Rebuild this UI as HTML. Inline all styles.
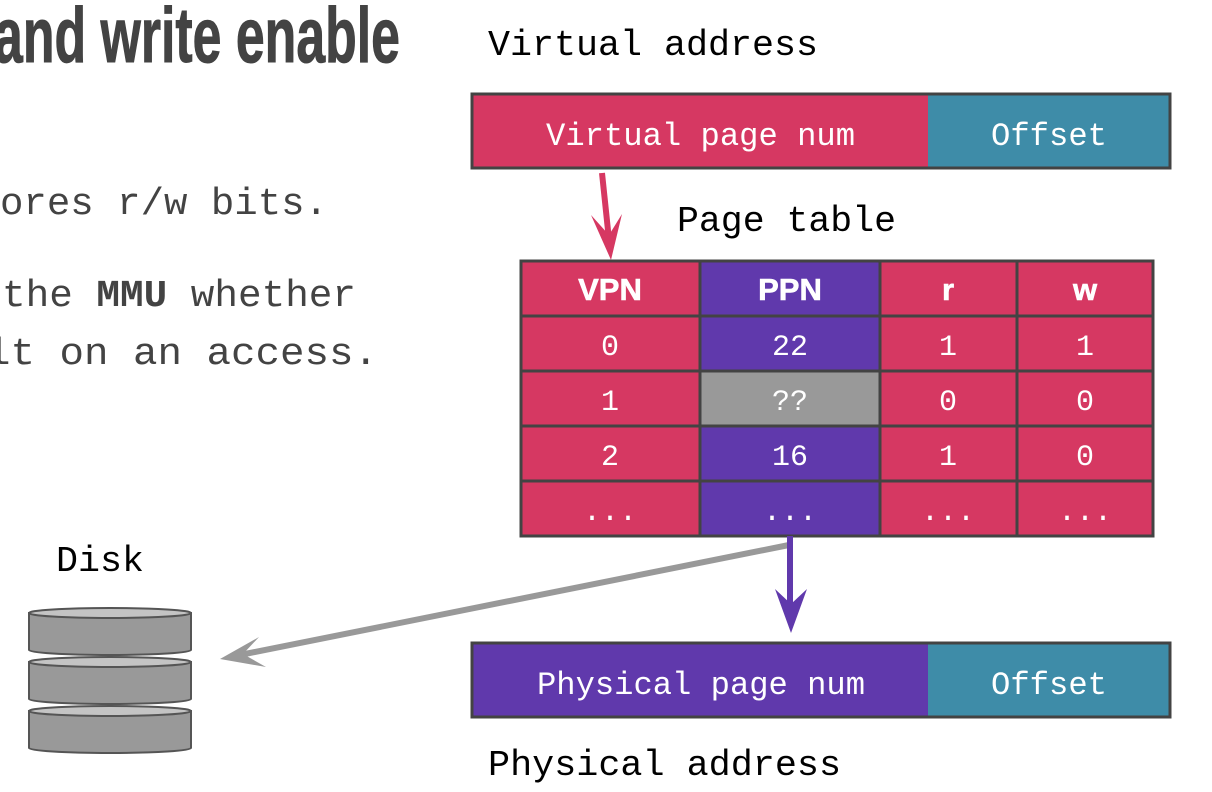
<!DOCTYPE html>
<html><head><meta charset="utf-8"><style>
html,body{margin:0;padding:0;background:#fff;width:1212px;height:792px;overflow:hidden}
svg{display:block}
.m{font-family:"Liberation Mono","DejaVu Sans Mono",monospace}
</style></head><body>
<svg width="1212" height="792" viewBox="0 0 1212 792" xmlns="http://www.w3.org/2000/svg">
<text x="-6" y="62" font-family="'Liberation Sans Narrow','Liberation Sans',sans-serif" font-weight="bold" font-size="78" fill="#434343" stroke="#434343" stroke-width="1" textLength="406" lengthAdjust="spacingAndGlyphs">and write enable</text>
<g class="m" font-size="38" fill="#434343">
<text x="0" y="214" textLength="328" lengthAdjust="spacingAndGlyphs">ores r/w bits.</text>
<text x="2" y="306" textLength="354" lengthAdjust="spacingAndGlyphs">the <tspan font-weight="bold">MMU</tspan> whether</text>
<text x="-14" y="364" textLength="392" lengthAdjust="spacingAndGlyphs">lt on an access.</text>
</g>
<g class="m" font-size="36" fill="#000">
<text x="488" y="55" textLength="330" lengthAdjust="spacingAndGlyphs">Virtual address</text>
<text x="677" y="231" textLength="219" lengthAdjust="spacingAndGlyphs">Page table</text>
<text x="488" y="775" textLength="353" lengthAdjust="spacingAndGlyphs">Physical address</text>
<text x="56" y="571" textLength="88" lengthAdjust="spacingAndGlyphs">Disk</text>
</g>
<rect x="472" y="94" width="456" height="74" fill="#d63862"/>
<rect x="928" y="94" width="242" height="74" fill="#3e8ca8"/>
<rect x="472" y="94" width="698" height="74" fill="none" stroke="#434343" stroke-width="3"/>
<rect x="472" y="643" width="456" height="74" fill="#6039ac"/>
<rect x="928" y="643" width="242" height="74" fill="#3e8ca8"/>
<rect x="472" y="643" width="698" height="74" fill="none" stroke="#434343" stroke-width="3"/>
<g class="m" font-size="32" fill="#fff">
<text x="546" y="145" textLength="309" lengthAdjust="spacingAndGlyphs">Virtual page num</text>
<text x="991" y="145" textLength="116" lengthAdjust="spacingAndGlyphs">Offset</text>
<text x="537" y="694" textLength="328" lengthAdjust="spacingAndGlyphs">Physical page num</text>
<text x="991" y="694" textLength="116" lengthAdjust="spacingAndGlyphs">Offset</text>
</g>
<g stroke="#434343" stroke-width="3">
<rect x="521" y="261" width="179" height="275" fill="#d63862"/>
<rect x="700" y="261" width="180" height="275" fill="#6039ac"/>
<rect x="700" y="371" width="180" height="55" fill="#999"/>
<rect x="880" y="261" width="137" height="275" fill="#d63862"/>
<rect x="1017" y="261" width="136" height="275" fill="#d63862"/>
<line x1="521" y1="316" x2="1153" y2="316"/>
<line x1="521" y1="371" x2="1153" y2="371"/>
<line x1="521" y1="426" x2="1153" y2="426"/>
<line x1="521" y1="481" x2="1153" y2="481"/>
</g>
<g class="m" font-size="30" fill="#fff" text-anchor="middle">
<g font-weight="bold" font-family="'Liberation Sans',sans-serif" font-size="31" stroke="#fff" stroke-width="0.6"><text x="610" y="300">VPN</text><text x="790" y="300">PPN</text><text x="948" y="300">r</text><text x="1085" y="300">w</text></g>
<text x="610" y="355">0</text><text x="790" y="355">22</text><text x="948" y="355">1</text><text x="1085" y="355">1</text>
<text x="610" y="410">1</text><text x="790" y="410">??</text><text x="948" y="410">0</text><text x="1085" y="410">0</text>
<text x="610" y="465">2</text><text x="790" y="465">16</text><text x="948" y="465">1</text><text x="1085" y="465">0</text>
<text x="610" y="520">...</text><text x="790" y="520">...</text><text x="948" y="520">...</text><text x="1085" y="520">...</text>
</g>
<line x1="602" y1="173" x2="609" y2="240" stroke="#d63862" stroke-width="6"/>
<polygon points="611,260 591,215 609,235 622,214" fill="#d63862"/>
<line x1="789" y1="545" x2="240" y2="655" stroke="#999" stroke-width="6"/>
<polygon points="220,659 259,637 243,654 266,667" fill="#999"/>
<line x1="790" y1="536" x2="790" y2="610" stroke="#6039ac" stroke-width="6"/>
<polygon points="791,633 775,589 791,604 807,589" fill="#6039ac"/>
<g stroke="#555" stroke-width="2" fill="#999">
<g transform="translate(0,98)"><path d="M29,613 v37 a81,5 0 0 0 162,0 v-37 z"/><ellipse cx="110" cy="613" rx="81" ry="5" fill="#c4c4c4"/></g>
<g transform="translate(0,49)"><path d="M29,613 v37 a81,5 0 0 0 162,0 v-37 z"/><ellipse cx="110" cy="613" rx="81" ry="5" fill="#c4c4c4"/></g>
<g><path d="M29,613 v37 a81,5 0 0 0 162,0 v-37 z"/><ellipse cx="110" cy="613" rx="81" ry="5" fill="#c4c4c4"/></g>
</g>
</svg>
</body></html>
